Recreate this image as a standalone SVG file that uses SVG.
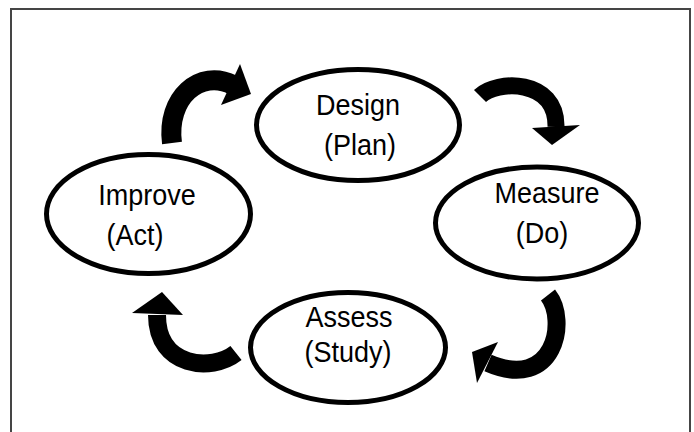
<svg xmlns="http://www.w3.org/2000/svg" width="694" height="432" viewBox="0 0 694 432">
<style>
.node ellipse{fill:#fff;stroke:#000;stroke-width:5}
.node text{font-family:"Liberation Sans",Arial,sans-serif;font-size:27px;fill:#000;text-anchor:middle}
.band{fill:none;stroke:#000;stroke-linecap:butt}
.head{fill:#000}
</style>
<rect x="0" y="0" width="694" height="432" fill="#fff"/>
<rect x="11" y="9" width="679" height="440" fill="none" stroke="#454545" stroke-width="2"/>
<g id="connectors">
<path class="band" stroke-width="20" d="M172,143 C166,98 200,68 233,85"/>
<polygon class="head" points="240,64 251,94 221,105"/>
<path class="band" stroke-width="17" d="M480,96 C496,80 557,78 556,127"/>
<polygon class="head" points="532,128 580,125 552,145"/>
<path class="band" stroke-width="18" d="M548,295 C568,320 555,392 488,363"/>
<polygon class="head" points="498,342 477,383 472,352"/>
<path class="band" stroke-width="18" d="M236,353 C212,372 157,368 157,315"/>
<polygon class="head" points="162,292 132,313 183,315"/>
</g>
<g id="design" class="node">
<ellipse cx="358" cy="125" rx="101.5" ry="55.5"/>
<text transform="translate(358,115) scale(1,1.06)">Design</text>
<text transform="translate(360,155) scale(1,1.06)">(Plan)</text>
</g>
<g id="measure" class="node">
<ellipse cx="537" cy="223" rx="101.5" ry="56"/>
<text transform="translate(547,203) scale(1,1.06)">Measure</text>
<text transform="translate(542,243) scale(1,1.06)">(Do)</text>
</g>
<g id="assess" class="node">
<ellipse cx="348" cy="347.5" rx="97.5" ry="55"/>
<text transform="translate(349,327) scale(1,1.06)">Assess</text>
<text transform="translate(348,362) scale(1,1.06)">(Study)</text>
</g>
<g id="improve" class="node">
<ellipse cx="148.5" cy="214" rx="102" ry="59.5"/>
<text transform="translate(147,205) scale(1,1.06)">Improve</text>
<text transform="translate(135,245) scale(1,1.06)">(Act)</text>
</g>
</svg>
